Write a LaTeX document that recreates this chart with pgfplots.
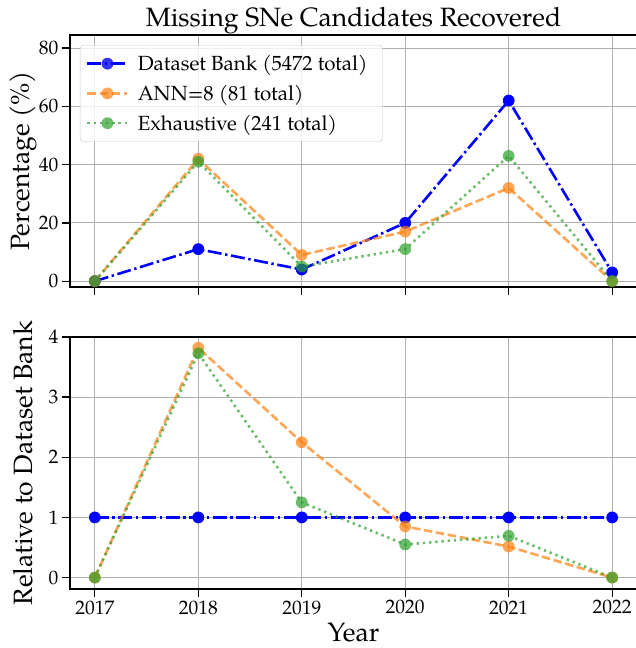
\documentclass[border=0pt]{standalone}
\usepackage{fontspec}
\setmainfont{TeX Gyre Pagella}
\usepackage{pgfplots}
\pgfplotsset{compat=1.18}

\definecolor{mblue}{RGB}{0,0,255}
\definecolor{morange}{HTML}{FF7F0E}
\definecolor{mgreen}{HTML}{2CA02C}
\definecolor{mgrid}{RGB}{176,176,176}

\pgfplotsset{
  every axis title shift=0pt,
  panel/.style={
    scale only axis, width=567pt,
    xmin=2016.76, xmax=2022.24,
    xtick={2017,2018,2019,2020,2021,2022},
    tick align=outside, xtick pos=left, ytick pos=left,
    major tick length=8pt,
    every tick/.style={black, line width=1.3pt},
    axis line style={line width=1.3pt},
    grid=major, major grid style={mgrid, line width=0.9pt},
    tick label style={font=\fontsize{19.5}{23}\selectfont},
    /pgf/number format/assume math mode=true,
    xticklabel style={/pgf/number format/1000 sep={}},
    ylabel style={at={(axis description cs:-0.083,0.5)}, anchor=center,
      font=\fontsize{26.5}{30}\selectfont},
  },
  bank/.style={mblue, line width=2.6pt,
    dash pattern=on 14pt off 3.6pt on 2.4pt off 3.6pt,
    mark=*, mark size=5.9pt, mark options={solid, draw opacity=0, fill=mblue}},
  ann/.style={morange, opacity=0.7, line width=2.6pt,
    dash pattern=on 8.5pt off 3.6pt,
    mark=*, mark size=5.9pt, mark options={solid, draw opacity=0, fill=morange}},
  exh/.style={mgreen, opacity=0.7, line width=2.6pt,
    dash pattern=on 2.4pt off 3.8pt,
    mark=*, mark size=5.9pt, mark options={solid, draw opacity=0, fill=mgreen}},
}

\begin{document}
\begin{tikzpicture}
\useasboundingbox (0pt,0pt) rectangle (636pt,648pt);

% top panel: percentage recovered
\begin{axis}[panel, at={(70pt,361pt)}, anchor=south west, height=252pt,
    ymin=-2, ymax=84.5, ytick={0,20,40,60,80},
    xticklabels={},
    ylabel={Percentage (\%)},
    title={Missing SNe Candidates Recovered},
    title style={at={(axis description cs:0.5,1.032)}, anchor=base,
      font=\fontsize{26.5}{30}\selectfont},
    legend cell align=left,
    legend style={at={(axis description cs:0.0176,0.96)}, anchor=north west,
      draw=mgrid!70, rounded corners=3pt, fill=white, fill opacity=0.8,
      text opacity=1, font=\fontsize{20.5}{24}\selectfont, row sep=9pt,
      inner xsep=6pt, inner ysep=8pt,
      nodes={inner xsep=9pt}},
    legend image code/.code={\draw[mark repeat=2,mark phase=2,#1]
      plot coordinates {(0pt,0pt)(20pt,0pt)(40pt,0pt)};},
]
\addplot[bank] coordinates {(2017,0) (2018,11) (2019,4) (2020,20) (2021,62) (2022,3)};
\addlegendentry{Dataset Bank (5472 total)}
\addplot[ann] coordinates {(2017,0) (2018,42) (2019,9) (2020,17) (2021,32) (2022,0)};
\addlegendentry{ANN=8 (81 total)}
\addplot[exh] coordinates {(2017,0) (2018,41) (2019,5) (2020,11) (2021,43) (2022,0)};
\addlegendentry{Exhaustive (241 total)}
\end{axis}

% bottom panel: relative to dataset bank
\begin{axis}[panel, at={(70pt,59pt)}, anchor=south west, height=252pt,
    ymin=-0.19, ymax=4.0, ytick={0,1,2,3,4},
    xlabel={Year},
    xlabel style={at={(axis description cs:0.5,-0.171)}, anchor=center,
      font=\fontsize{26.5}{30}\selectfont},
    ylabel={Relative to Dataset Bank},
]
\addplot[bank] coordinates {(2017,1) (2018,1) (2019,1) (2020,1) (2021,1) (2022,1)};
\addplot[ann] coordinates {(2017,0) (2018,3.82) (2019,2.25) (2020,0.85) (2021,0.516) (2022,0)};
\addplot[exh] coordinates {(2017,0) (2018,3.73) (2019,1.25) (2020,0.55) (2021,0.694) (2022,0)};
\end{axis}
\end{tikzpicture}
\end{document}
